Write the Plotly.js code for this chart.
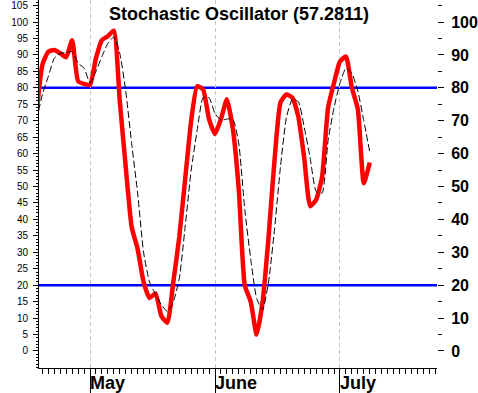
<!DOCTYPE html>
<html>
<head>
<meta charset="utf-8">
<script src="https://cdn.plot.ly/plotly-3.0.1.min.js"></script>
<style>html,body{margin:0;padding:0;background:#fff;}#chart{width:478px;height:393px;}</style>
</head>
<body>
<div id="chart"></div>
<script>
// trading-day index (0 = first trading day of May)
var days = [-9,-8,-7,-6,-5,-4,-3,-2,-1,0,1,2,3,4,5,6,7,8,9,10,11,12,13,14,15,16,17,18,19,20,21,22,23,24,25,26,27,28,29,30,31,32,33,34,35,36,37,38,39,40,41,42,43,44,45,46,47];
// %K (fast line, red)
var kValues = [72,87,91,91.5,90.5,89.3,94.5,82,81.2,80.9,89,94.5,95.7,97.4,76,56,37.7,31,21,16.1,17.5,10.6,8.6,21,34.7,52.5,70,80.5,79.5,70.5,66,70.5,76.5,67.5,49,20,15,5,15,34.6,58,75.5,78,77,71.2,58.5,44,46,53,74,81.5,88,89.5,80,73.5,51,57.2811];
// %D (signal line, black dashed)
var dValues = [70,78,83.5,89,90.5,90.7,91,87.5,86,81.5,85,89.5,93.5,95.5,90.5,79,63,48,30,21,17.3,14,12,15,22,38,55,67,77,77,72.2,70.2,70.5,70.5,63,43,28,16,12.5,21,37,56,71,76.5,75.8,68,58.5,48.5,48,64,74,81.4,86,84.4,79,70,60.5];
// month tick positions and labels
var monthIdx = [0,21,42];
var monthNames = ['May','June','July'];
// left and right axis ticks
var leftTicks = [0,5,10,15,20,25,30,35,40,45,50,55,60,65,70,75,80,85,90,95,100,105];
var rightTicks = [0,10,20,30,40,50,60,70,80,90,100];
var rightMinor = [5,15,25,35,45,55,65,75,85,95,105];
// overbought / oversold levels
var levels = [80,20];

var xr = [-8.57, 58.3];
var yr = [-5.17, 106.7];
var fam = 'Liberation Sans, Arial, sans-serif';

var traces = [
  {x: days, y: kValues, type: 'scatter', mode: 'lines', xaxis: 'x', yaxis: 'y',
   line: {color: '#ff0000', width: 4.5, shape: 'spline', smoothing: 0.5}, hoverinfo: 'skip', showlegend: false},
  {x: days, y: dValues, type: 'scatter', mode: 'lines', xaxis: 'x2', yaxis: 'y2',
   line: {color: '#000000', width: 1, dash: '7px,3px', shape: 'spline', smoothing: 0.5}, hoverinfo: 'skip', showlegend: false}
];

var shapes = levels.map(function (v) {
  return {type: 'line', xref: 'paper', x0: 0, x1: 1, yref: 'y', y0: v, y1: v,
          line: {color: '#0000ff', width: 2.5}, layer: 'below'};
});

var layout = {
  width: 478, height: 393,
  margin: {l: 39, r: 41, t: 0, b: 25, pad: 0},
  paper_bgcolor: '#ffffff', plot_bgcolor: '#ffffff',
  showlegend: false,
  title: {text: 'Stochastic Oscillator (' + kValues[kValues.length - 1].toFixed(4) + ')',
          x: 0.5, xanchor: 'center', y: 0.966, yanchor: 'middle', yref: 'container',
          font: {family: fam, size: 18, color: '#000', weight: 'bold'}},
  xaxis: {range: xr, tickmode: 'array', tickvals: monthIdx, ticktext: monthNames,
          showticklabels: false, ticks: 'outside', ticklen: 25, tickwidth: 1, tickcolor: '#000',
          showgrid: true, gridcolor: '#c4c4c4', griddash: '4px,3px', gridwidth: 1,
          showline: true, linecolor: '#000', linewidth: 1, zeroline: false, fixedrange: true,
          minor: {ticks: 'outside', ticklen: 5, tickcolor: '#000', tickwidth: 1, dtick: 1, tick0: 0, showgrid: false}},
  xaxis2: {range: xr, overlaying: 'x', anchor: 'y', side: 'bottom', tickmode: 'array',
           tickvals: monthIdx, ticktext: monthNames, ticks: '', showgrid: false, showline: false,
           zeroline: false, ticklabelposition: 'outside right', ticklabelstandoff: 2,
           tickfont: {family: fam, size: 18, color: '#000', weight: 'bold'}, fixedrange: true},
  yaxis: {range: yr, tickmode: 'array', tickvals: leftTicks, ticks: 'outside', ticklen: 5,
          tickcolor: '#000', tickwidth: 1, showline: true, linecolor: '#000', linewidth: 1,
          showgrid: false, zeroline: false, ticklabelstandoff: 3,
          tickfont: {family: fam, size: 10, color: '#000'}, fixedrange: true,
          minor: {ticks: 'outside', ticklen: 2, tickcolor: '#000', dtick: 1, tick0: 0, showgrid: false}},
  yaxis2: {range: yr, overlaying: 'y', side: 'right', anchor: 'x', tickmode: 'array', tickvals: rightTicks,
           ticks: 'outside', ticklen: 6, tickcolor: '#000', tickwidth: 1, showline: false,
           showgrid: false, zeroline: false, ticklabelstandoff: 4,
           tickfont: {family: fam, size: 16, color: '#000', weight: 'bold'}, fixedrange: true,
           minor: {ticks: 'outside', ticklen: 4, tickcolor: '#000', tickmode: 'array', tickvals: rightMinor, showgrid: false}},
  shapes: shapes
};

Plotly.newPlot('chart', traces, layout, {staticPlot: true, displayModeBar: false});
</script>
</body>
</html>
